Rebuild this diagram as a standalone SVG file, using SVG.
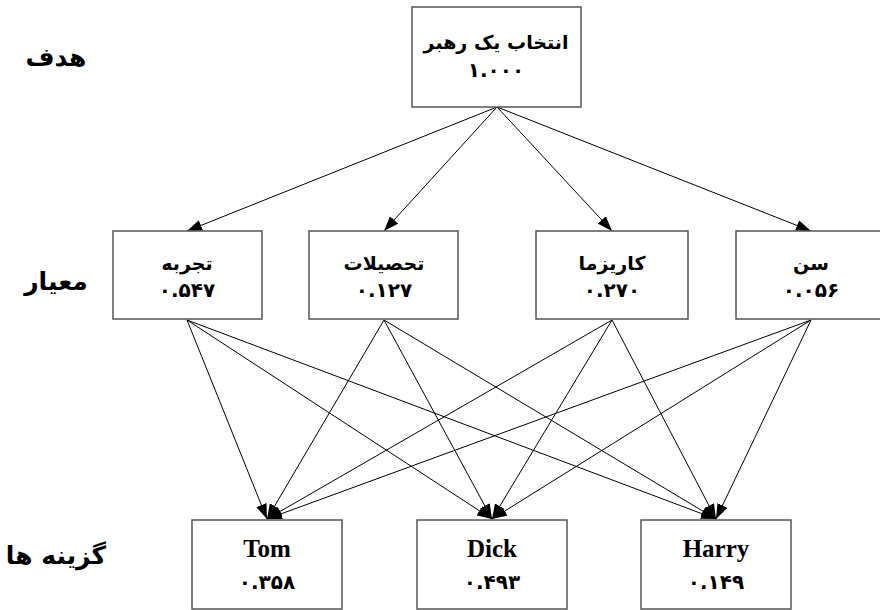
<svg xmlns="http://www.w3.org/2000/svg" width="880" height="610" viewBox="0 0 880 610">
  <style>
    .box { fill: #ffffff; stroke: #555555; stroke-width: 1.5; }
    .edge { stroke: #000000; stroke-width: 1; fill: none; marker-end: url(#arrow); }
    .fa { font-family: "DejaVu Sans", sans-serif; font-weight: bold; fill: #000; text-anchor: middle; }
    .en { font-family: "Liberation Serif", serif; font-weight: bold; fill: #000; text-anchor: middle; font-size: 25px; }
    .name { font-size: 19px; }
    .num { font-size: 20px; }
    .level { font-size: 25px; }
  </style>
  <defs>
    <marker id="arrow" markerUnits="userSpaceOnUse" markerWidth="15" markerHeight="11" refX="15" refY="5.5" orient="auto">
      <path d="M0,0 L15,5.5 L0,11 z" fill="#000"/>
    </marker>
  </defs>
  <rect width="880" height="610" fill="#ffffff"/>

  <!-- level labels -->
  <g id="level-labels">
    <text class="fa level" x="56" y="66">هدف</text>
    <text class="fa level" x="56" y="290">معیار</text>
    <text class="fa level" x="56" y="564">گزینه ها</text>
  </g>

  <!-- connectors -->
  <g id="connectors">
    <line class="edge" x1="497" y1="107" x2="187" y2="231"/>
    <line class="edge" x1="497" y1="107" x2="384" y2="231"/>
    <line class="edge" x1="497" y1="107" x2="612" y2="231"/>
    <line class="edge" x1="497" y1="107" x2="811" y2="231"/>

    <line class="edge" x1="187" y1="320" x2="267" y2="519"/>
    <line class="edge" x1="187" y1="320" x2="492" y2="519"/>
    <line class="edge" x1="187" y1="320" x2="716" y2="519"/>

    <line class="edge" x1="384" y1="320" x2="267" y2="519"/>
    <line class="edge" x1="384" y1="320" x2="492" y2="519"/>
    <line class="edge" x1="384" y1="320" x2="716" y2="519"/>

    <line class="edge" x1="612" y1="320" x2="267" y2="519"/>
    <line class="edge" x1="612" y1="320" x2="492" y2="519"/>
    <line class="edge" x1="612" y1="320" x2="716" y2="519"/>

    <line class="edge" x1="811" y1="320" x2="267" y2="519"/>
    <line class="edge" x1="811" y1="320" x2="492" y2="519"/>
    <line class="edge" x1="811" y1="320" x2="716" y2="519"/>
  </g>

  <!-- goal -->
  <g id="goal">
    <rect class="box" x="412" y="7" width="169" height="100"/>
    <text class="fa name" x="496" y="49">انتخاب یک رهبر</text>
    <text class="fa num" x="496" y="77">۱.۰۰۰</text>
  </g>

  <!-- criteria -->
  <g id="criterion-experience">
    <rect class="box" x="113" y="231" width="149" height="88"/>
    <text class="fa name" x="187" y="270">تجربه</text>
    <text class="fa num" x="187" y="297">۰.۵۴۷</text>
  </g>
  <g id="criterion-education">
    <rect class="box" x="309" y="231" width="149" height="88"/>
    <text class="fa name" x="384" y="270">تحصیلات</text>
    <text class="fa num" x="384" y="297">۰.۱۲۷</text>
  </g>
  <g id="criterion-charisma">
    <rect class="box" x="536" y="231" width="152" height="88"/>
    <text class="fa name" x="612" y="270">کاریزما</text>
    <text class="fa num" x="612" y="297">۰.۲۷۰</text>
  </g>
  <g id="criterion-age">
    <rect class="box" x="736" y="231" width="150" height="88"/>
    <text class="fa name" x="811" y="270">سن</text>
    <text class="fa num" x="811" y="297">۰.۰۵۶</text>
  </g>

  <!-- alternatives -->
  <g id="alt-tom">
    <rect class="box" x="192" y="520" width="150" height="89"/>
    <text class="en" x="267" y="557">Tom</text>
    <text class="fa num" x="267" y="589">۰.۳۵۸</text>
  </g>
  <g id="alt-dick">
    <rect class="box" x="417" y="520" width="150" height="89"/>
    <text class="en" x="492" y="557">Dick</text>
    <text class="fa num" x="492" y="589">۰.۴۹۳</text>
  </g>
  <g id="alt-harry">
    <rect class="box" x="641" y="520" width="150" height="89"/>
    <text class="en" x="716" y="557">Harry</text>
    <text class="fa num" x="716" y="589">۰.۱۴۹</text>
  </g>
</svg>
